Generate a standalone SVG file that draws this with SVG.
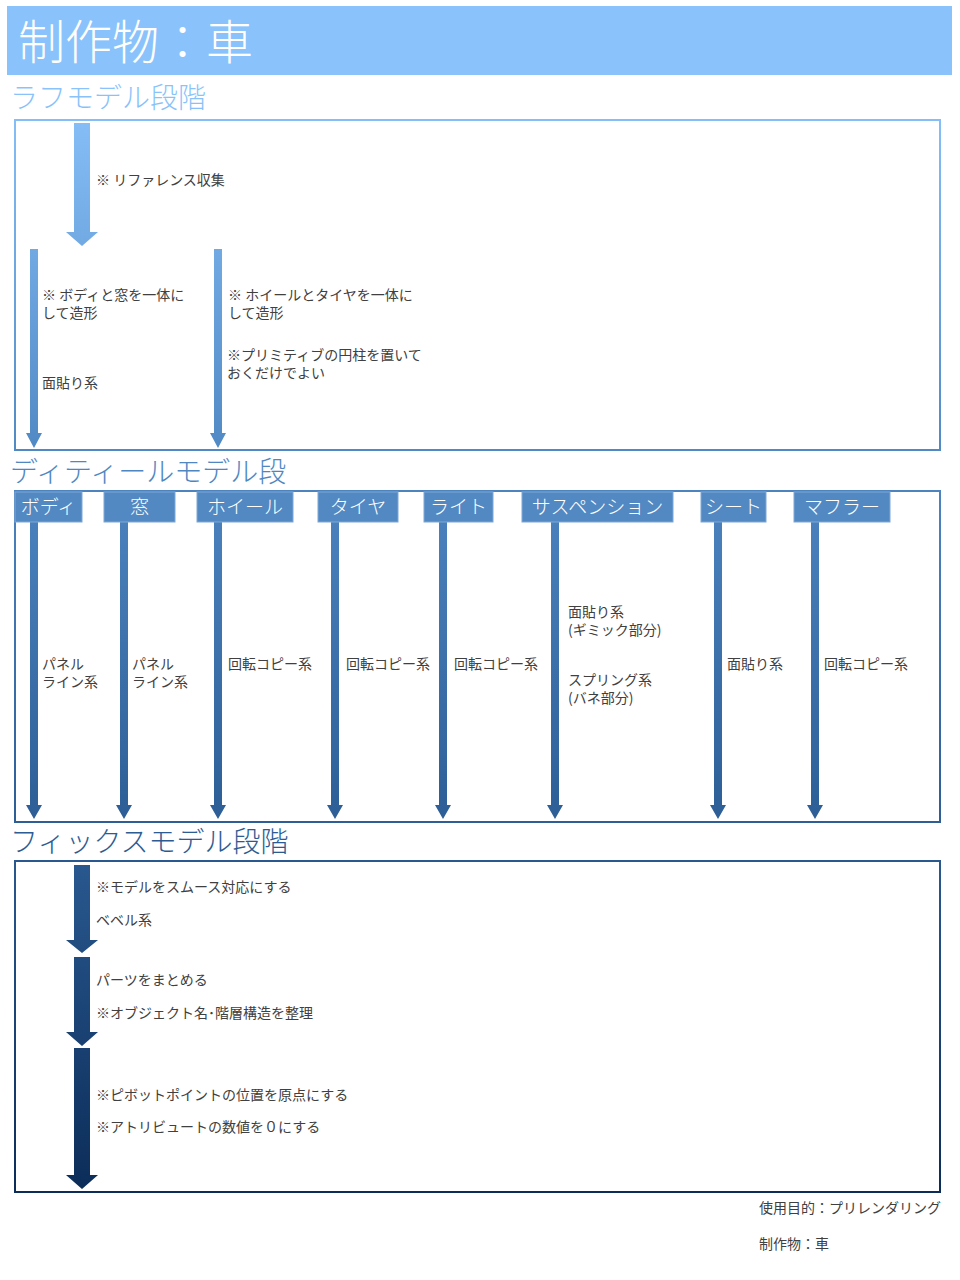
<svg xmlns="http://www.w3.org/2000/svg" width="960" height="1280" viewBox="0 0 960 1280">
<defs>
<linearGradient id="pg" gradientUnits="userSpaceOnUse" x1="0" y1="90" x2="0" y2="1195">
<stop offset="0" stop-color="#8AC3FB"/>
<stop offset="0.33" stop-color="#5088C4"/>
<stop offset="0.66" stop-color="#2D5E96"/>
<stop offset="1" stop-color="#0B2C58"/>
</linearGradient>
<style>
.sec{font-family:"Noto Sans CJK JP","Noto Sans",sans-serif;font-size:28px;font-weight:300;fill:url(#pg)}
.box{fill:none;stroke:url(#pg);stroke-width:2}
.arr{fill:url(#pg)}
.t{font-family:"Noto Sans CJK JP","Noto Sans",sans-serif;font-size:14px;fill:#404040}
.tab rect{fill:#5289C2;stroke:#7FA8D6;stroke-width:1}
.tab text{font-family:"Noto Sans CJK JP","Noto Sans",sans-serif;font-size:19px;font-weight:300;fill:#ffffff;text-anchor:middle}
</style>
</defs>
<rect width="960" height="1280" fill="#ffffff"/>
<g id="title">
<rect x="7" y="6" width="945" height="69" fill="#8AC3FB"/>
<text x="18" y="59" font-family="'Noto Sans CJK JP','Noto Sans',sans-serif" font-size="47" font-weight="300" fill="#ffffff">制作物：車</text>
</g>
<g id="stage-rough">
<text class="sec" x="10" y="108">ラフモデル段階</text>
<rect class="box" x="15" y="120" width="925" height="330"/>
</g>
<g id="stage-detail">
<text class="sec" x="10" y="482">ディティールモデル段</text>
<rect class="box" x="15" y="491" width="925" height="331"/>
</g>
<g id="stage-fix">
<text class="sec" x="10" y="852">フィックスモデル段階</text>
<rect class="box" x="15" y="861" width="925" height="331"/>
</g>
<g id="connectors">
<polygon class="arr" points="74,123 90,123 90,232 98,232 82,246 66,232 74,232"/>
<polygon class="arr" points="30,249 38,249 38,433 42,433 34,448 26,433 30,433"/>
<polygon class="arr" points="214,249 222,249 222,433 226,433 218,448 210,433 214,433"/>
<polygon class="arr" points="30,522 38,522 38,805 42,805 34,819 26,805 30,805"/>
<polygon class="arr" points="120,522 128,522 128,805 132,805 124,819 116,805 120,805"/>
<polygon class="arr" points="214,522 222,522 222,805 226,805 218,819 210,805 214,805"/>
<polygon class="arr" points="331,522 339,522 339,805 343,805 335,819 327,805 331,805"/>
<polygon class="arr" points="439,522 447,522 447,805 451,805 443,819 435,805 439,805"/>
<polygon class="arr" points="551,522 559,522 559,805 563,805 555,819 547,805 551,805"/>
<polygon class="arr" points="714,522 722,522 722,805 726,805 718,819 710,805 714,805"/>
<polygon class="arr" points="811,522 819,522 819,805 823,805 815,819 807,805 811,805"/>
<polygon class="arr" points="74,865 90,865 90,940 98,940 82,953 66,940 74,940"/>
<polygon class="arr" points="74,957 90,957 90,1032 98,1032 82,1046 66,1032 74,1032"/>
<polygon class="arr" points="74,1048 90,1048 90,1175 98,1175 82,1189 66,1175 74,1175"/>
</g>
<g id="rough-notes">
<text class="t" x="96" y="185">※ リファレンス収集</text>
<text class="t" x="42" y="300">※ ボディと窓を一体に</text>
<text class="t" x="42" y="318">して造形</text>
<text class="t" x="42" y="388">面貼り系</text>
<text class="t" x="228" y="300">※ ホイールとタイヤを一体に</text>
<text class="t" x="228" y="318">して造形</text>
<text class="t" x="227" y="360">※プリミティブの円柱を置いて</text>
<text class="t" x="227" y="378">おくだけでよい</text>
</g>
<g id="tab-body" class="tab"><rect x="15" y="492" width="67" height="30"/><text x="48.5" y="514">ボディ</text></g>
<g id="tab-window" class="tab"><rect x="104" y="492" width="71" height="30"/><text x="139.5" y="514">窓</text></g>
<g id="tab-wheel" class="tab"><rect x="197" y="492" width="96" height="30"/><text x="245" y="514">ホイール</text></g>
<g id="tab-tire" class="tab"><rect x="318" y="492" width="80" height="30"/><text x="358" y="514">タイヤ</text></g>
<g id="tab-light" class="tab"><rect x="424" y="492" width="69" height="30"/><text x="458.5" y="514">ライト</text></g>
<g id="tab-suspension" class="tab"><rect x="522" y="492" width="151" height="30"/><text x="597.5" y="514">サスペンション</text></g>
<g id="tab-seat" class="tab"><rect x="701" y="492" width="65" height="30"/><text x="733.5" y="514">シート</text></g>
<g id="tab-muffler" class="tab"><rect x="794" y="492" width="96" height="30"/><text x="842" y="514">マフラー</text></g>
<g id="detail-notes">
<text class="t" x="42" y="669">パネル</text>
<text class="t" x="42" y="687">ライン系</text>
<text class="t" x="132" y="669">パネル</text>
<text class="t" x="132" y="687">ライン系</text>
<text class="t" x="228" y="669">回転コピー系</text>
<text class="t" x="346" y="669">回転コピー系</text>
<text class="t" x="454" y="669">回転コピー系</text>
<text class="t" x="568" y="617">面貼り系</text>
<text class="t" x="568" y="635">(ギミック部分)</text>
<text class="t" x="568" y="685">スプリング系</text>
<text class="t" x="568" y="703">(バネ部分)</text>
<text class="t" x="727" y="669">面貼り系</text>
<text class="t" x="824" y="669">回転コピー系</text>
</g>
<g id="fix-notes">
<text class="t" x="96" y="892">※モデルをスムース対応にする</text>
<text class="t" x="96" y="925">ベベル系</text>
<text class="t" x="96" y="985">パーツをまとめる</text>
<text class="t" x="96" y="1018">※オブジェクト名･階層構造を整理</text>
<text class="t" x="96" y="1100">※ピボットポイントの位置を原点にする</text>
<text class="t" x="96" y="1132">※アトリビュートの数値を０にする</text>
</g>
<g id="footer">
<text class="t" x="759" y="1213">使用目的：プリレンダリング</text>
<text class="t" x="759" y="1249">制作物：車</text>
</g>
</svg>
